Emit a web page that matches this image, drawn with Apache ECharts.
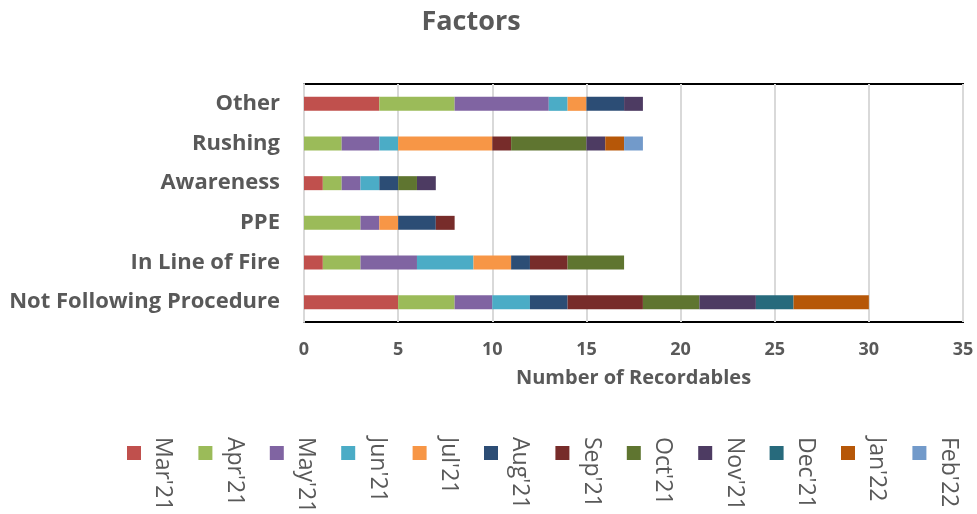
<!DOCTYPE html>
<html>
<head>
<meta charset="utf-8">
<title>Factors</title>
<script src="https://cdn.jsdelivr.net/npm/echarts@6/dist/echarts.min.js"></script>
<style>
  html, body { margin: 0; padding: 0; background: #ffffff; }
  #chart { width: 977px; height: 514px; }
</style>
</head>
<body>
<div id="chart"></div>
<script>
// Factor categories, listed bottom-to-top as the category axis draws them
const factors = ['Not Following Procedure', 'In Line of Fire', 'PPE', 'Awareness', 'Rushing', 'Other'];

// Monthly series names and colours
const months = ["Mar'21", "Apr'21", "May'21", "Jun'21", "Jul'21", "Aug'21",
                "Sep'21", "Oct'21", "Nov'21", "Dec'21", "Jan'22", "Feb'22"];
const monthColors = ['#C0504D', '#9BBB59', '#8064A2', '#4BACC6', '#F79646', '#2C4D75',
                     '#772C2A', '#5F7530', '#4D3B62', '#276A7C', '#B65708', '#729ACA'];

// Recordables per month, one value per factor (same order as factors)
const mar21 = [5, 1, 0, 1, 0, 4];
const apr21 = [3, 2, 3, 1, 2, 4];
const may21 = [2, 3, 1, 1, 2, 5];
const jun21 = [2, 3, 0, 1, 1, 1];
const jul21 = [0, 2, 1, 0, 5, 1];
const aug21 = [2, 1, 2, 1, 0, 2];
const sep21 = [4, 2, 1, 0, 1, 0];
const oct21 = [3, 3, 0, 1, 4, 0];
const nov21 = [3, 0, 0, 1, 1, 1];
const dec21 = [2, 0, 0, 0, 0, 0];
const jan22 = [4, 0, 0, 0, 1, 0];
const feb22 = [0, 0, 0, 0, 1, 0];
const monthValues = [mar21, apr21, may21, jun21, jul21, aug21, sep21, oct21, nov21, dec21, jan22, feb22];

// Value axis ticks
const xTicks = [0, 5, 10, 15, 20, 25, 30, 35];

const textColor = '#595959';
const fontFamily = '"Open Sans", "Noto Sans", sans-serif';

const chart = echarts.init(document.getElementById('chart'), null, { renderer: 'canvas' });

const series = months.map((m, i) => ({
  name: m,
  type: 'bar',
  stack: 'total',
  barWidth: 14,
  itemStyle: { color: monthColors[i] },
  emphasis: { disabled: true },
  data: monthValues[i]
}));

// Legend text is rotated to read top-to-bottom beside each swatch
const legendLeft = 127;
const legendStep = 71.4;
const legendTexts = months.map((m, i) => ({
  type: 'text',
  x: legendLeft + 36 + i * legendStep,
  y: 437,
  rotation: -Math.PI / 2,
  style: {
    text: m,
    fill: textColor,
    font: '23px ' + fontFamily,
    align: 'left',
    verticalAlign: 'middle'
  }
}));

chart.setOption({
  animation: false,
  backgroundColor: '#ffffff',
  title: {
    text: 'Factors',
    left: 466,
    top: 4,
    textAlign: 'center',
    textStyle: { color: textColor, fontSize: 27, fontWeight: 'bold', fontFamily: fontFamily }
  },
  legend: {
    data: months,
    left: legendLeft,
    top: 446,
    padding: 0,
    orient: 'horizontal',
    icon: 'rect',
    itemWidth: 14,
    itemHeight: 14,
    itemGap: legendStep - 14,
    formatter: function () { return ''; },
    textStyle: { fontSize: 1, padding: 0 },
    selectedMode: false
  },
  grid: {
    left: 304,
    right: 14,
    top: 84,
    bottom: 192,
    show: true,
    borderColor: '#000000',
    borderWidth: 2,
    containLabel: false
  },
  xAxis: {
    type: 'value',
    min: xTicks[0],
    max: xTicks[xTicks.length - 1],
    interval: 5,
    name: 'Number of Recordables',
    nameLocation: 'middle',
    nameGap: 46,
    nameTextStyle: { color: textColor, fontSize: 20, fontWeight: 'bold', fontFamily: fontFamily },
    axisLine: { show: false },
    axisTick: { show: false },
    axisLabel: { color: textColor, fontSize: 18, fontWeight: 'bold', fontFamily: fontFamily, margin: 19 },
    splitLine: { show: true, lineStyle: { color: '#D9D9D9', width: 2 } }
  },
  yAxis: {
    type: 'category',
    data: factors,
    axisLine: { show: true, lineStyle: { color: '#D9D9D9', width: 2 } },
    axisTick: { show: false },
    axisLabel: { color: textColor, fontSize: 22, fontWeight: 'bold', fontFamily: fontFamily, margin: 24 }
  },
  graphic: legendTexts,
  series: series
});
</script>
</body>
</html>
